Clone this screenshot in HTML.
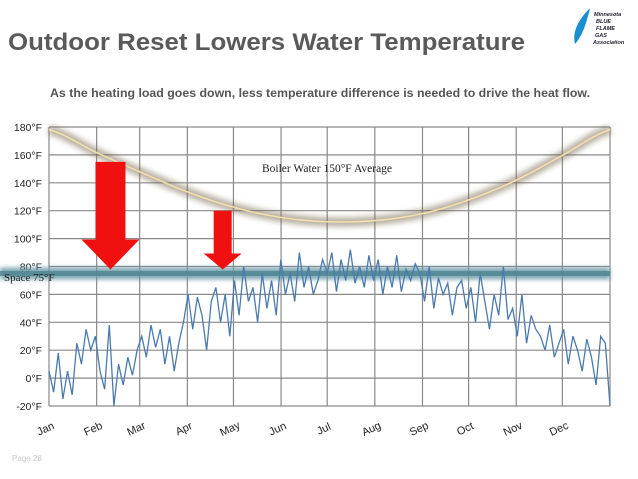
<!DOCTYPE html>
<html><head><meta charset="utf-8"><style>
html,body{margin:0;padding:0;background:#fff;}
svg{display:block;font-family:"Liberation Sans",sans-serif;}
</style></head><body>
<svg id="chart" width="638" height="479" viewBox="0 0 638 479">
<defs>
<filter id="blur4" x="-10%" y="-50%" width="120%" height="200%"><feGaussianBlur stdDeviation="3"/></filter>
<filter id="blur2" x="-10%" y="-50%" width="120%" height="200%"><feGaussianBlur stdDeviation="2"/></filter>
</defs>
<text x="8" y="50" font-size="24" font-weight="bold" fill="#5a5a5a" textLength="517" lengthAdjust="spacingAndGlyphs">Outdoor Reset Lowers Water Temperature</text>
<text x="50" y="97" font-size="11.5" font-weight="bold" fill="#555" textLength="540" lengthAdjust="spacingAndGlyphs">As the heating load goes down, less temperature difference is needed to drive the heat flow.</text>
<g>
<path d="M590 8 C578 20,572 32,575 44 C580 38,585 30,590 8 Z" fill="#1a8fd0"/>
<text x="594" y="16" font-size="5.5" font-weight="bold" font-style="italic" fill="#223">Minnesota</text>
<text x="596" y="23" font-size="5.5" font-weight="bold" font-style="italic" fill="#223">BLUE</text>
<text x="596" y="30" font-size="5.5" font-weight="bold" font-style="italic" fill="#223">FLAME</text>
<text x="595" y="37" font-size="5.5" font-weight="bold" font-style="italic" fill="#223">GAS</text>
<text x="593" y="44" font-size="5.5" font-weight="bold" font-style="italic" fill="#223">Association</text>
</g>
<g id="grid"></g>
<g id="yaxis"></g>
<g id="xaxis"></g>
<g id="band"></g>
<g id="series"></g>
<g id="boiler"></g>
<g id="arrows"></g>
<text x="262" y="172" font-family="Liberation Serif,serif" font-size="11.5" fill="#222">Boiler Water   150°F Average</text>
<text x="4" y="281" font-family="Liberation Serif,serif" font-size="11" fill="#222">Space  75°F</text>
<text x="12" y="461" font-size="8" fill="#c8c8c8">Page 28</text>
</svg>
<script>
const yTicks = [180,160,140,120,100,80,60,40,20,0,-20];
const months = ["Jan","Feb","Mar","Apr","May","Jun","Jul","Aug","Sep","Oct","Nov","Dec"];
const monthStartDays = [0,31,59,90,120,151,181,212,243,273,304,334];
const outdoorTemps = [
5,-10,18,-15,5,-12,25,10,35,20,
30,5,-8,38,-20,10,-5,15,2,20,
30,15,38,22,35,10,30,5,25,40,
60,35,58,45,20,55,65,40,60,30,
70,45,80,55,65,40,75,50,70,45,
85,60,75,55,90,65,80,60,70,85,
75,90,62,85,70,92,68,80,65,88,
70,85,60,80,65,88,62,78,70,82,
75,55,80,50,72,60,68,45,65,70,
50,65,40,75,55,35,60,45,80,42,
50,30,60,25,45,35,30,20,38,15,
25,35,10,30,20,5,28,15,-5,30,25,-20];
const boilerTemps = [178,162,147,133,122,115,112,113,118,128,142,160,178];
const spaceTemp = 75;
const arrowTops = [155,120];
const arrowDays = [40,113];

const X0=49,X1=610,Y0=127,Y1=406;
const x = d => X0 + d/365*(X1-X0);
const y = t => Y0 + (180-t)/200*(Y1-Y0);
const NS="http://www.w3.org/2000/svg";
function mk(tag, parent, attrs){const e=document.createElementNS(NS,tag);for(const k in attrs)e.setAttribute(k,attrs[k]);parent.appendChild(e);return e;}

const grid=document.getElementById('grid');
yTicks.forEach(t=>{
  const l=mk('line',grid,{x1:X0,x2:X1,y1:y(t),y2:y(t),stroke:'#8a8a8a','stroke-width':1.2});
  
  
  const tx=mk('text',document.getElementById('yaxis'),{x:42,y:y(t)+4,'font-size':10.5,'text-anchor':'end',fill:'#222'});
  tx.textContent=t+'°F';
  
  
});
monthStartDays.concat([365]).forEach(d=>{
  const l=mk('line',grid,{x1:x(d),x2:x(d),y1:Y0,y2:Y1,stroke:'#8a8a8a','stroke-width':1.2});
  
  
});
months.forEach((m,i)=>{
  const cx=x(monthStartDays[i])-2, cy=432;
  const tx=mk('text',document.getElementById('xaxis'),{x:cx,y:cy,'font-size':11,'text-anchor':'middle',fill:'#222',transform:`rotate(-25 ${cx} ${cy})`});
  tx.textContent=m;
  
  
});
const band=document.getElementById('band');
const b1=mk('rect',band,{x:0,y:y(spaceTemp)-6,width:X1,height:12,fill:'#6a9aa6',filter:'url(#blur2)',opacity:0.85});


mk('line',band,{x1:0,x2:X1,y1:y(spaceTemp),y2:y(spaceTemp),stroke:'#4d8592','stroke-width':5,opacity:0.8});

const pts=outdoorTemps.map((t,i)=>x(i*365/(outdoorTemps.length-1))+','+y(t)).join(' ');
const ser=mk('polyline',document.getElementById('series'),{points:pts,fill:'none',stroke:'#4a7ab0','stroke-width':1.3});



const bp=[];const n=boilerTemps.length;
for(let i=0;i<n-1;i++){const p0=boilerTemps[Math.max(0,i-1)],p1=boilerTemps[i],p2=boilerTemps[i+1],p3=boilerTemps[Math.min(n-1,i+2)];
  for(let s=0;s<8;s++){const u=s/8;const v=0.5*((2*p1)+(-p0+p2)*u+(2*p0-5*p1+4*p2-p3)*u*u+(-p0+3*p1-3*p2+p3)*u*u*u);
    bp.push(x((i+u)*365/(n-1))+','+y(v));}}
bp.push(x(365)+','+y(boilerTemps[n-1]));
const bg=document.getElementById('boiler');
mk('polyline',bg,{points:bp.join(' '),fill:'none',stroke:'#7a6a50','stroke-width':9,opacity:0.55,filter:'url(#blur4)'});
const bl=mk('polyline',bg,{points:bp.join(' '),fill:'none',stroke:'#f3dfae','stroke-width':1.6});



const ag=document.getElementById('arrows');
const sizes=[{sw:15,hw:29,hh:30},{sw:9,hw:19,hh:16}];
arrowDays.forEach((d,i)=>{
  const cx=x(d),top=y(arrowTops[i]),tip=y(spaceTemp)-4,s=sizes[i],hb=tip-s.hh;
  const a=mk('polygon',ag,{points:`${cx-s.sw},${top} ${cx+s.sw},${top} ${cx+s.sw},${hb} ${cx+s.hw},${hb} ${cx},${tip} ${cx-s.hw},${hb} ${cx-s.sw},${hb}`,fill:'#f01010'});
  
  
});
</script>
</body></html>
